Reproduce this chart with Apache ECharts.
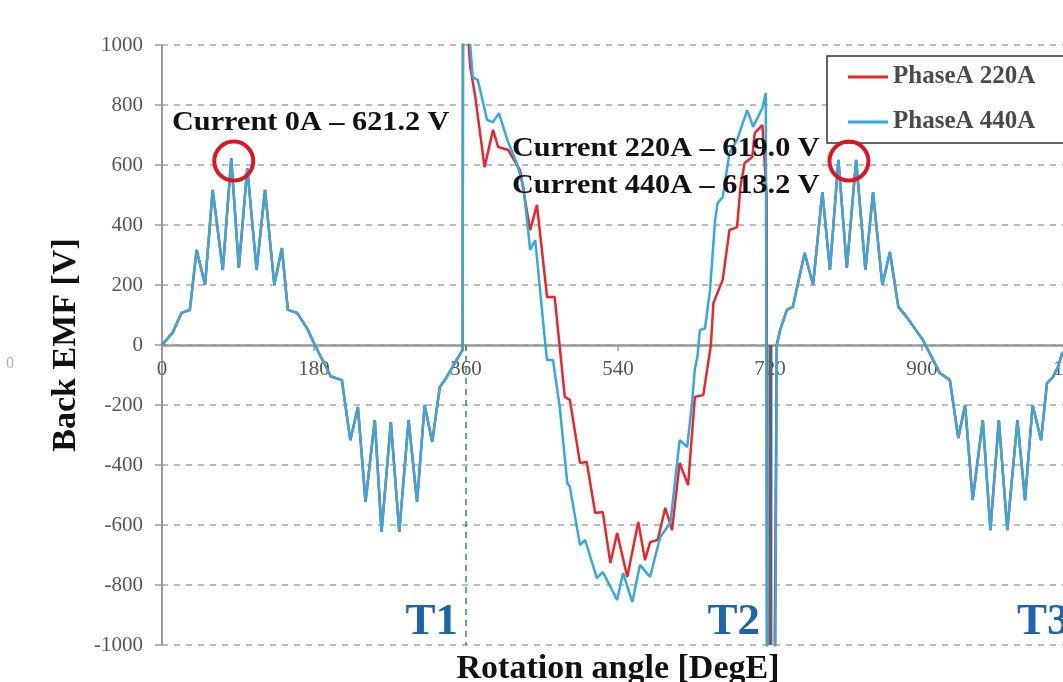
<!DOCTYPE html>
<html>
<head>
<meta charset="utf-8">
<style>
  html, body { margin: 0; padding: 0; background: #ffffff; overflow: hidden; }
  #chart { width: 1063px; height: 682px; }
</style>
<script src="https://cdn.jsdelivr.net/npm/echarts@6/dist/echarts.min.js"></script>
</head>
<body>
<div id="chart"></div>
<script>
// ---- data ----
const xTicks = [0, 180, 360, 540, 720, 900, 1080];

// no-load period (0 - 360 DegE), common to both curves
const noLoadAngleA = [0, 13, 23, 33, 41, 51, 60, 72, 82, 91, 101, 112, 122, 133, 142, 149, 160, 172, 181, 200, 213, 223, 232, 241, 252, 260, 271, 281, 292, 302, 311, 320, 329, 335, 351, 356];
const noLoadEmfA   = [0, 43, 107, 117, 317, 200, 517, 250, 622, 257, 590, 250, 517, 200, 323, 117, 107, 55, 0, -105, -117, -317, -207, -523, -250, -623, -257, -623, -250, -523, -200, -323, -140, -117, -40, -17];

// loaded period, PhaseA 220A
const phase220Angle = [357, 362, 365, 371, 382, 392, 398, 410, 424, 436, 444, 456, 465, 477, 483, 495, 503, 513, 522, 531, 539, 551, 564, 572, 578, 587, 596, 604, 613, 623, 631, 641, 650, 653, 664, 672, 681, 685, 690, 699, 702, 711, 716, 717, 722];
const phase220Emf   = [2500, 1050, 927, 827, 593, 717, 660, 650, 583, 383, 467, 160, 160, -173, -183, -393, -390, -560, -557, -727, -627, -773, -590, -717, -657, -650, -543, -617, -393, -467, -173, -167, 0, 140, 217, 383, 393, 527, 607, 627, 707, 733, 500, -2500, -2500];

// loaded period, PhaseA 440A
const phase440Angle = [357, 365, 368, 374, 385, 392, 399, 409, 420, 428, 436, 442, 454, 456, 463, 471, 480, 483, 495, 501, 515, 522, 539, 546, 557, 566, 578, 590, 602, 613, 622, 628, 631, 634, 637, 643, 649, 655, 658, 664, 672, 681, 693, 700, 711, 715, 717.5, 724];
const phase440Emf   = [2500, 1000, 893, 883, 750, 743, 773, 683, 607, 527, 317, 350, 0, -50, -50, -207, -460, -473, -667, -650, -777, -757, -850, -760, -857, -733, -773, -640, -593, -317, -340, -183, -80, -40, 50, 55, 183, 417, 473, 493, 640, 683, 783, 727, 790, 840, -2500, -2500];

// no-load period (720 - 1080 DegE), common to both curves
const noLoadAngleB = [728, 732, 740, 747, 761, 771, 782, 791, 801, 811, 822, 833, 842, 853, 862, 872, 882, 901, 921, 933, 943, 951, 960, 972, 981, 991, 1001, 1013, 1022, 1031, 1041, 1048, 1055, 1061, 1066, 1076, 1080];
const noLoadEmfB   = [0, 50, 117, 127, 307, 200, 510, 250, 617, 257, 617, 250, 510, 200, 310, 127, 93, 17, -93, -117, -310, -200, -517, -250, -617, -250, -617, -250, -517, -200, -317, -127, -107, -73, -27, -10, 0];

// period markers
const markerT1 = { angle: [360, 360], emf: [0, -1000] };
const markerT2 = { angle: [720.5, 720.5], emf: [0, -1000] };

// peak annotations (circled points)
const peakCircles = [[85, 613], [813.5, 613]];

// ---- build ----
function pairs(xs, ys) { return xs.map((x, i) => [x, ys[i]]); }
const data220 = pairs(noLoadAngleA, noLoadEmfA).concat(pairs(phase220Angle, phase220Emf), pairs(noLoadAngleB, noLoadEmfB));
const data440 = pairs(noLoadAngleA, noLoadEmfA).concat(pairs(phase440Angle, phase440Emf), pairs(noLoadAngleB, noLoadEmfB));

const SERIF = "'Liberation Serif', 'DejaVu Serif', serif";
const RED = '#e8262b';
const BLUE = '#33a9dc';
const TBLUE = '#1b66ad';

const GRID = { left: 162, right: -11, top: 45, bottom: 37 };
const plotH = 682 - GRID.top - GRID.bottom;   // 600 px for -1000..1000
const zeroOffset = -plotH / 2;                // x axis drawn through y = 0

const annoStyle = { fontFamily: SERIF, fontWeight: 'bold', fontSize: 28, fill: '#111', verticalAlign: 'middle' };

const chart = echarts.init(document.getElementById('chart'), null, { renderer: 'canvas' });
chart.setOption({
  animation: false,
  backgroundColor: '#ffffff',
  grid: Object.assign({ containLabel: false, outerBoundsMode: 'none' }, GRID),
  legend: {
    data: [
      { name: 'PhaseA 220A', icon: 'rect', itemStyle: { color: RED } },
      { name: 'PhaseA 440A', icon: 'rect', itemStyle: { color: BLUE } }
    ],
    orient: 'vertical',
    left: 827, top: 56,
    padding: [8, 70, 8, 21],
    itemWidth: 40, itemHeight: 3, itemGap: 19,
    borderColor: '#333', borderWidth: 1.5,
    backgroundColor: '#ffffff',
    textStyle: { fontFamily: SERIF, fontWeight: 'bold', fontSize: 25, color: '#4a4a4a', lineHeight: 26 }
  },
  xAxis: {
    type: 'value', min: 0, max: 1080, interval: 180,
    position: 'bottom', offset: zeroOffset,
    axisLine: { onZero: false, lineStyle: { color: '#9a9a9a', width: 2.5 } },
    axisTick: { show: true, length: 6, lineStyle: { color: '#9a9a9a', width: 1.5 } },
    axisLabel: { margin: 14, fontFamily: SERIF, fontSize: 21, color: '#555', formatter: v => String(v) },
    splitLine: { show: false },
    name: 'Rotation angle [DegE]',
    nameLocation: 'middle', nameGap: 307, nameMoveOverlap: false,
    nameTextStyle: { fontFamily: SERIF, fontWeight: 'bold', fontSize: 34, color: '#111' }
  },
  yAxis: {
    type: 'value', min: -1000, max: 1000, interval: 200,
    axisLine: { show: true, onZero: false, lineStyle: { color: '#9a9a9a', width: 2 } },
    axisTick: { show: true, length: 7, lineStyle: { color: '#9a9a9a', width: 1.5 } },
    axisLabel: { margin: 19, fontFamily: SERIF, fontSize: 21, color: '#555', formatter: v => String(v) },
    splitLine: { show: true, lineStyle: { color: '#a8a8a8', width: 1.5, type: [6, 6] } },
    name: 'Back EMF [V]',
    nameLocation: 'middle', nameGap: 78, nameRotate: 90,
    nameTextStyle: { fontFamily: SERIF, fontWeight: 'bold', fontSize: 34, color: '#111' }
  },
  series: [
    {
      name: 'T1 marker', type: 'line', symbol: 'none', silent: true,
      data: pairs(markerT1.angle, markerT1.emf),
      lineStyle: { color: '#3d9b4f', width: 1.6, type: [6, 5] }
    },
    {
      name: 'PhaseA 220A', type: 'line', symbol: 'none', clip: true,
      data: data220,
      lineStyle: { color: RED, width: 2.5 }, itemStyle: { color: RED }
    },
    {
      name: 'PhaseA 440A', type: 'line', symbol: 'none', clip: true,
      data: data440,
      lineStyle: { color: BLUE, width: 2.5 }, itemStyle: { color: BLUE },
      markPoint: {
        symbol: 'circle', symbolSize: 39, silent: true,
        label: { show: false },
        itemStyle: { color: 'rgba(0,0,0,0)', borderColor: '#e0141e', borderWidth: 4 },
        data: peakCircles.map(c => ({ coord: c }))
      }
    },
    {
      name: 'T2 marker', type: 'line', symbol: 'none', silent: true,
      data: pairs(markerT2.angle, markerT2.emf),
      lineStyle: { color: '#5b5f78', width: 4 }
    }
  ],
  graphic: [
    { type: 'text', left: 6, top: 356, style: { text: '0', fontFamily: SERIF, fontSize: 16, fill: '#b5b5b5' } },
    { type: 'text', x: 172, y: 123, scaleX: 1.08, z: 100, style: Object.assign({ text: 'Current 0A \u2013 621.2 V' }, annoStyle) },
    { type: 'text', x: 512, y: 149, scaleX: 1.08, z: 100, style: Object.assign({ text: 'Current 220A \u2013 619.0 V' }, annoStyle) },
    { type: 'text', x: 512, y: 186, scaleX: 1.08, z: 100, style: Object.assign({ text: 'Current 440A \u2013 613.2 V' }, annoStyle) },
    { type: 'text', x: 458, y: 622, z: 100, style: { text: 'T1', fontFamily: SERIF, fontWeight: 'bold', fontSize: 45, fill: TBLUE, align: 'right', verticalAlign: 'middle' } },
    { type: 'text', x: 760, y: 622, z: 100, style: { text: 'T2', fontFamily: SERIF, fontWeight: 'bold', fontSize: 45, fill: TBLUE, align: 'right', verticalAlign: 'middle' } },
    { type: 'text', x: 1017, y: 622, z: 100, style: { text: 'T3', fontFamily: SERIF, fontWeight: 'bold', fontSize: 45, fill: TBLUE, align: 'left', verticalAlign: 'middle' } }
  ]
});
</script>
</body>
</html>
